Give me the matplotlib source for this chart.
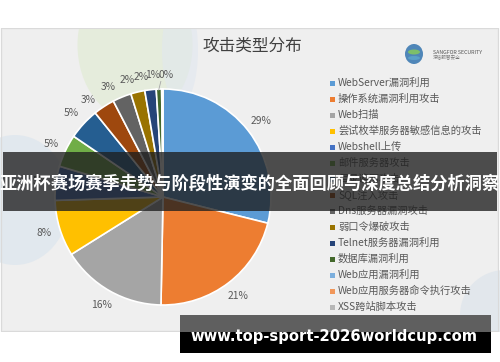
import matplotlib
matplotlib.use("Agg")
import matplotlib.pyplot as plt
from matplotlib.patches import Rectangle, Circle, Ellipse

plt.rcParams['font.family'] = ['Noto Sans CJK SC', 'DejaVu Sans']

title = "攻击类型分布"
categories = ["WebServer漏洞利用", "操作系统漏洞利用攻击", "Web扫描", "尝试枚举服务器敏感信息的攻击",
              "Webshell上传", "邮件服务器攻击", "目录遍历攻击", "SQL注入攻击", "Dns服务器漏洞攻击",
              "弱口令爆破攻击", "Telnet服务器漏洞利用", "数据库漏洞利用", "Web应用漏洞利用",
              "Web应用服务器命令执行攻击", "XSS跨站脚本攻击"]
values = [28.9, 21.4, 15.8, 8.4, 5.1, 4.9, 4.7, 3.2, 2.8, 2.1, 1.7, 0.8, 0.2, 0.0, 0.0]
colors = ["#5B9BD5", "#ED7D31", "#A5A5A5", "#FFC000", "#4472C4", "#70AD47", "#255E91",
          "#9E480E", "#636363", "#997300", "#264478", "#43682B", "#7CAFDD", "#F1975A", "#B7B7B7"]
banner_text = "亚洲杯赛场赛季走势与阶段性演变的全面回顾与深度总结分析洞察"
url_text = "www.top-sport-2026worldcup.com"

W, H = 500, 362
fig = plt.figure(figsize=(W / 100, H / 100), dpi=100)
fig.patch.set_facecolor("white")

# background layer in pixel coordinates
bg = fig.add_axes([0, 0, 1, 1], zorder=0)
bg.set_xlim(0, W)
bg.set_ylim(H, 0)
bg.axis("off")
bg.add_patch(Rectangle((1, 28), 497, 303, facecolor="#efefef", edgecolor="#dadada", lw=0.8))
# faint decorative shapes
bg.add_patch(Ellipse((135, 45), 115, 150, facecolor="#e4ecd9", edgecolor="none", alpha=0.85))
bg.add_patch(Ellipse((180, 50), 36, 110, facecolor="#e0e7ef", edgecolor="none", alpha=0.6))
bg.add_patch(Ellipse((15, 200), 110, 130, facecolor="#dfe7ee", edgecolor="none", alpha=0.85))
bg.add_patch(Circle((505, 315), 45, facecolor="#e0e6ec", edgecolor="none", alpha=0.85))
bg.add_patch(Rectangle((1, 28), 497, 303, facecolor="none", edgecolor="#dadada", lw=0.8))
bg.add_patch(Rectangle((0, 0), W, 27.5, facecolor="white", edgecolor="none"))
bg.add_patch(Rectangle((0, 331.5), W, 31, facecolor="white", edgecolor="none"))

bg.text(252, 46, title, fontsize=12, color="#404040", ha="center", va="center")
# logo
bg.add_patch(Ellipse((414, 54), 18, 20, facecolor="#4f86b8", edgecolor="none"))
bg.add_patch(Ellipse((414, 52), 12, 5, facecolor="#7dbf6a", edgecolor="none"))
bg.add_patch(Ellipse((414, 58), 12, 4, facecolor="#5aa0c8", edgecolor="none"))
bg.text(433, 52, "SANGFOR SECURITY", fontsize=3.8, color="#555555", ha="left", va="center")
bg.text(433, 58, "深信服智安全", fontsize=3.3, color="#777777", ha="left", va="center")

# legend
for i, (lab, col) in enumerate(zip(categories, colors)):
    y = 83 + i * 16.0
    bg.add_patch(Rectangle((330, y - 2.5), 5, 5, facecolor=col, edgecolor="none"))
    bg.text(338, y, lab, fontsize=7.4, color="#595959", ha="left", va="center")

# pie
cx, cy, r = 163, 197, 108
half = r * 1.25
pax = fig.add_axes([(cx - half) / W, (H - cy - half) / H, 2 * half / W, 2 * half / H], zorder=1)
pv = [v for v in values if v > 0]
pc = colors[:len(pv)]
wedges, texts, autotexts = pax.pie(pv, colors=pc, startangle=90, counterclock=False,
                                   autopct=lambda p: f"{p:.0f}%", pctdistance=1.15,
                                   wedgeprops=dict(edgecolor="white", linewidth=1.2),
                                   textprops=dict(fontsize=7.4, color="#595959"))
# spread the crowded labels at the top (as the reference's best-fit placement does)
spread = {7: (-0.694, 0.898), 8: (-0.509, 1.019), 9: (-0.333, 1.083),
          10: (-0.204, 1.111), 11: (-0.093, 1.130), 12: (0.025, 1.130)}
for k, pos in spread.items():
    autotexts[k].set_position(pos)
pax.plot([-0.02, -0.04], [1.07, 0.99], color="#a6a6a6", lw=0.6)
pax.set_xlim(-1.25, 1.25)
pax.set_ylim(-1.25, 1.25)
pax.set_aspect("auto")
pax.axis("off")
pax.patch.set_alpha(0)

# overlay banners
top = fig.add_axes([0, 0, 1, 1], zorder=2)
top.set_xlim(0, W)
top.set_ylim(H, 0)
top.axis("off")
top.patch.set_alpha(0)
top.add_patch(Rectangle((3, 152), 494, 59, facecolor="#1e1e1e", edgecolor="none", alpha=0.78))
top.text(250, 184, banner_text, fontsize=12.4, fontweight="bold", color="white", ha="center", va="center")
top.add_patch(Rectangle((180, 315), 311, 17, facecolor="#5f5f5f", edgecolor="none"))
top.add_patch(Rectangle((180, 332), 311, 21, facecolor="black", edgecolor="none"))
top.text(334, 336, url_text, fontsize=10.6, fontweight="bold", color="white", ha="center", va="center",
         family="DejaVu Sans")

fig.savefig("out.png", dpi=100)
